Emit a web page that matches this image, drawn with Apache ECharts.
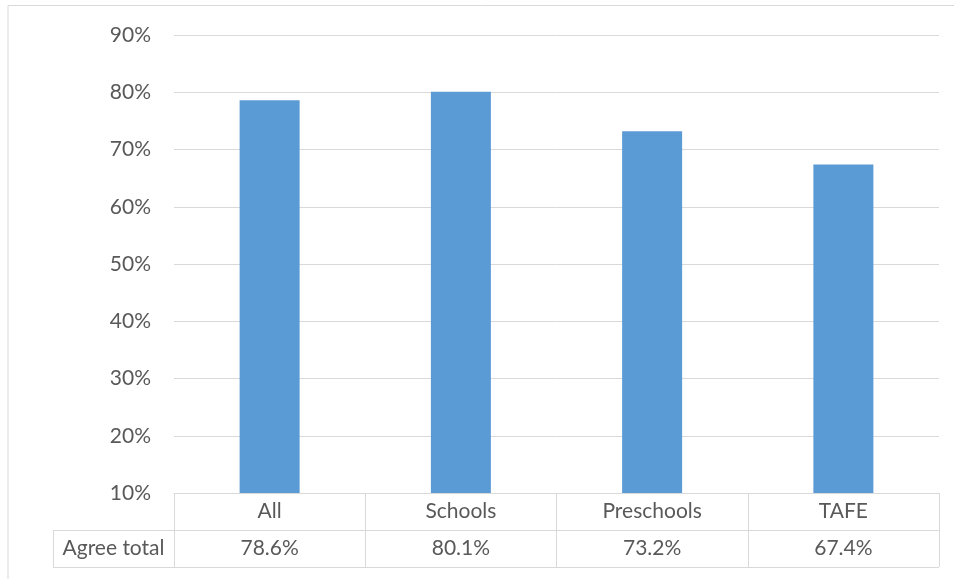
<!DOCTYPE html>
<html>
<head>
<meta charset="utf-8">
<style>
  html, body { margin: 0; padding: 0; background: #fff; }
  #chart { width: 954px; height: 579px; }
</style>
<script src="https://cdn.jsdelivr.net/npm/echarts@6/dist/echarts.min.js"></script>
</head>
<body>
<div id="chart"></div>
<script>
// Share of respondents who agree, by sector
const categories = ['All', 'Schools', 'Preschools', 'TAFE'];
const agreeTotal = [78.6, 80.1, 73.2, 67.4];
const rowHeader = 'Agree total';
const yMin = 10, yMax = 90, yStep = 10;

const FONT = 'Lato, "Open Sans", sans-serif';
const FS = 21;
const TEXT = '#595959';
const LINE = '#d9d9d9';

const gridL = 174, gridR = 15, gridT = 35, gridB = 86;
const axisY = 579 - gridB;      // bottom of plot / top of data table
const rowH = 37;                // data table row height

const chart = echarts.init(document.getElementById('chart'));
chart.setOption({
  animation: false,
  grid: { left: gridL, right: gridR, top: gridT, bottom: gridB },
  xAxis: {
    type: 'category',
    data: categories,
    axisLine: { show: true, lineStyle: { color: LINE, width: 1 } },
    axisTick: { show: true, length: rowH * 2, lineStyle: { color: LINE, width: 1 } },
    axisLabel: {
      margin: 0,
      fontFamily: FONT,
      fontSize: FS,
      color: TEXT,
      formatter: (v, i) => `{c|${v}}\n{c|${agreeTotal[i].toFixed(1)}%}`,
      rich: { c: { height: rowH, lineHeight: rowH, fontFamily: FONT, fontSize: FS, color: TEXT, align: 'center' } }
    }
  },
  yAxis: {
    type: 'value',
    min: yMin, max: yMax, interval: yStep,
    axisLine: { show: false },
    axisTick: { show: false },
    splitLine: { lineStyle: { color: LINE, width: 1 } },
    axisLabel: { margin: 23, fontFamily: FONT, fontSize: FS, color: TEXT, formatter: '{value}%' }
  },
  series: [{
    type: 'bar',
    data: agreeTotal,
    barWidth: 60,
    itemStyle: { color: '#5b9bd5' }
  }],
  graphic: [
    // outer chart frame
    { type: 'rect', shape: { x: 8, y: 5.5, width: 1000, height: 1000 },
      style: { fill: 'none', stroke: LINE, lineWidth: 1 }, silent: true },
    // data table rows
    { type: 'line', shape: { x1: 53, y1: axisY + rowH + 0.5, x2: 954 - gridR, y2: axisY + rowH + 0.5 },
      style: { stroke: LINE, lineWidth: 1 } },
    { type: 'line', shape: { x1: 53, y1: axisY + rowH * 2 + 0.5, x2: 954 - gridR, y2: axisY + rowH * 2 + 0.5 },
      style: { stroke: LINE, lineWidth: 1 } },
    { type: 'line', shape: { x1: 53.5, y1: axisY + rowH, x2: 53.5, y2: axisY + rowH * 2 },
      style: { stroke: LINE, lineWidth: 1 } },
    { type: 'text', x: (53 + gridL) / 2, y: axisY + rowH * 1.5,
      style: { text: rowHeader, font: `${FS}px ${FONT}`, fill: TEXT, align: 'center', verticalAlign: 'middle' } }
  ]
});
</script>
</body>
</html>
